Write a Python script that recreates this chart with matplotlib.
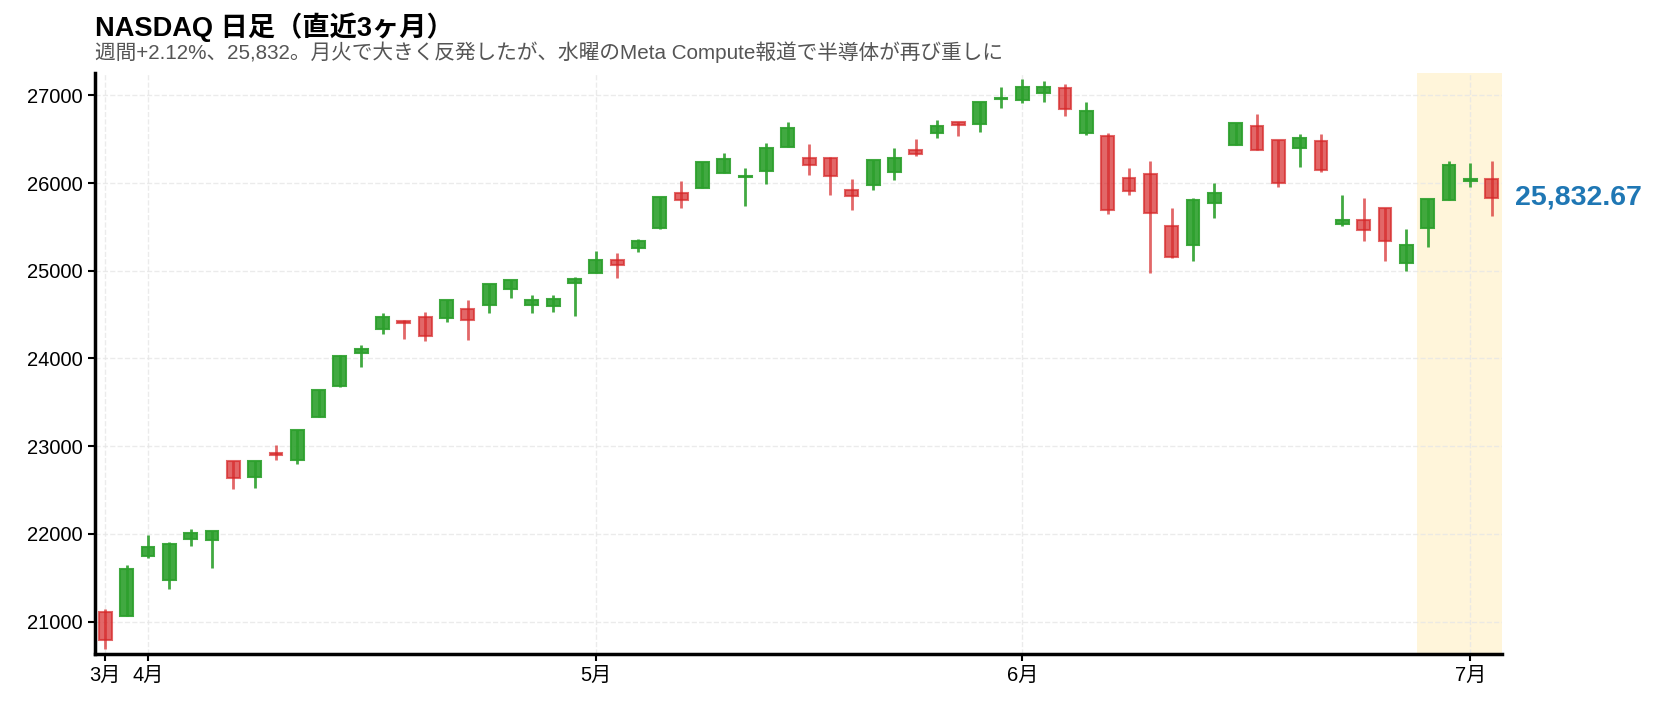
"""NASDAQ daily candles, last ~3 months, with the latest week highlighted."""
import matplotlib
matplotlib.use("Agg")
import matplotlib.pyplot as plt
import numpy as np

plt.rcParams["font.family"] = ["Liberation Sans", "Noto Sans CJK JP", "DejaVu Sans"]

# OHLC per trading day (index 0 = 3/31 ... 65 = 7/2)
opens = [21107, 21065, 21746, 21472, 21943, 21932, 22830, 22647, 22921, 22841,
         23331, 23686, 24061, 24333, 24424, 24470, 24458, 24561, 24606, 24788,
         24606, 24595, 24856, 24973, 25121, 25262, 25485, 25883, 25947, 26117,
         26070, 26140, 26413, 26284, 26290, 25924, 25981, 26130, 26382, 26576,
         26702, 26679, 26958, 26943, 27027, 27086, 26568, 26541, 26061, 26107,
         25512, 25299, 25779, 26438, 26655, 26495, 26404, 26484, 25535, 25581,
         25718, 25089, 25489, 25810, 26030, 26050]
highs = [21141, 21643, 21989, 21906, 22057, 22035, 22830, 22830, 23012, 23190,
         23646, 24035, 24155, 24519, 24436, 24530, 24663, 24667, 24845, 24890,
         24724, 24724, 24928, 25227, 25205, 25364, 25838, 26030, 26243, 26349,
         26178, 26462, 26701, 26451, 26302, 26042, 26267, 26397, 26500, 26718,
         26702, 26931, 27095, 27187, 27164, 27128, 26922, 26568, 26168, 26248,
         25722, 25836, 25996, 26690, 26785, 26495, 26556, 26556, 25870, 25836,
         25718, 25482, 25821, 26248, 26225, 26248]
lows = [20692, 21060, 21730, 21373, 21867, 21616, 22506, 22528, 22848, 22802,
        23331, 23680, 23898, 24284, 24227, 24205, 24420, 24216, 24523, 24693,
        24523, 24534, 24489, 24970, 24913, 25220, 25474, 25720, 25947, 26117,
        25738, 25989, 26413, 26091, 25863, 25691, 25920, 26034, 26309, 26515,
        26538, 26584, 26859, 26916, 26928, 26766, 26549, 25646, 25863, 24971,
        25143, 25108, 25600, 26438, 26373, 25954, 26183, 26126, 25509, 25345,
        25116, 25002, 25276, 25810, 25954, 25623]
closes = [20791, 21598, 21849, 21883, 22008, 22031, 22636, 22830, 22898, 23190,
          23646, 24027, 24106, 24470, 24405, 24254, 24663, 24436, 24845, 24890,
          24663, 24674, 24902, 25121, 25064, 25337, 25838, 25804, 26243, 26277,
          26085, 26402, 26625, 26212, 26084, 25859, 26267, 26290, 26336, 26657,
          26668, 26920, 26973, 27092, 27092, 26842, 26827, 25699, 25916, 25661,
          25158, 25810, 25886, 26690, 26373, 26004, 26518, 26152, 25581, 25467,
          25341, 25296, 25821, 26210, 26042, 25832.67]

month_pos = [0, 2, 23, 43, 64]
month_labels = ["3月", "4月", "5月", "6月", "7月"]
week_start = 62  # first candle of the highlighted week

TITLE = "NASDAQ 日足（直近3ヶ月）"
SUBTITLE = ("週間+2.12%、25,832。月火で大きく反発したが、"
            "水曜のMeta Compute報道で半導体が再び重しに")

UP = "#2ca02c"
DOWN = "#d62728"


def main() -> None:
    o = np.array(opens, dtype=float)
    h = np.array(highs, dtype=float)
    l = np.array(lows, dtype=float)
    c = np.array(closes, dtype=float)
    x = np.arange(len(o))
    up = c >= o

    fig = plt.figure(figsize=(16.6, 7.03), dpi=100)
    ax = fig.add_axes([0.057, 0.070, 0.848, 0.826])

    ax.axvspan(week_start - 0.5, len(o) - 0.5, color="#ffc107", alpha=0.15,
               lw=0, zorder=0)

    for mask, col, alpha in [(up, UP, 0.9), (~up, DOWN, 0.7)]:
        ax.vlines(x[mask], l[mask], h[mask], color=col, alpha=alpha,
                  lw=2, zorder=2)
        body = np.maximum(np.abs(c - o), 12)[mask]
        bottom = np.minimum(o, c)[mask]
        ax.bar(x[mask], body, bottom=bottom, width=0.6, color=col,
               alpha=alpha, edgecolor=col, lw=1.5, zorder=3)

    ax.set_xlim(-0.5, len(o) - 0.5)
    ax.set_ylim(20632, 27255)
    ax.set_xticks(month_pos)
    ax.set_xticklabels(month_labels)
    ax.set_yticks(np.arange(21000, 27001, 1000))
    ax.tick_params(labelsize=14.5, length=5, width=1.5)
    ax.grid(True, ls="--", color="#e6e6e6", lw=1, alpha=0.8)
    ax.set_axisbelow(True)
    for side in ["top", "right"]:
        ax.spines[side].set_visible(False)
    for side in ["left", "bottom"]:
        ax.spines[side].set_linewidth(2.5)

    ax.annotate(f"{c[-1]:,.2f}", xy=(1, c[-1]),
                xycoords=("axes fraction", "data"),
                xytext=(9, 0), textcoords="offset points",
                va="center", ha="left", fontsize=20.5, fontweight="bold",
                color="#1f77b4")

    fig.text(0.057, 0.949, TITLE, fontsize=19.6, fontweight="bold",
             va="baseline", ha="left")
    fig.text(0.057, 0.916, SUBTITLE, fontsize=14.9, color="#555555",
             va="baseline", ha="left")

    fig.savefig("out.png", dpi=100)
    plt.close(fig)


if __name__ == "__main__":
    main()
